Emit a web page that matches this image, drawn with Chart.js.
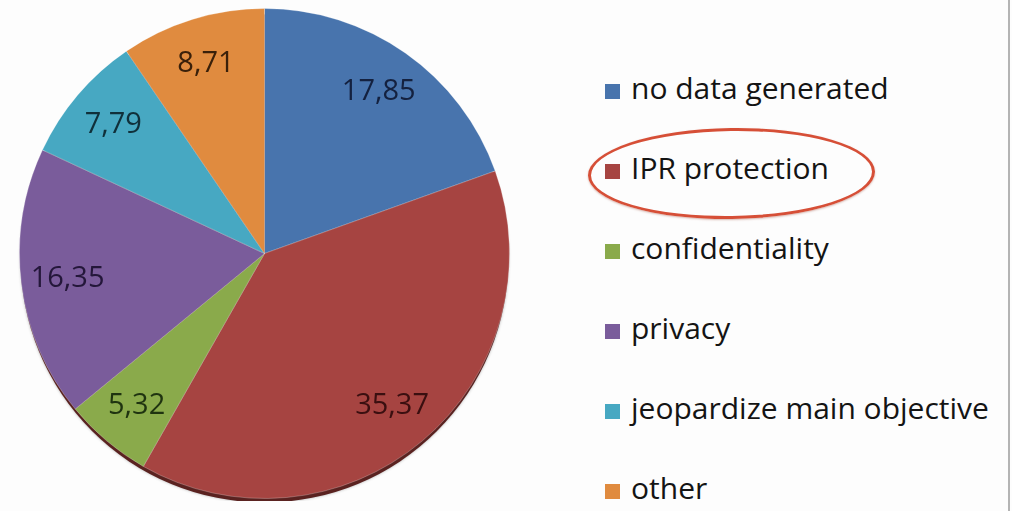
<!DOCTYPE html>
<html>
<head>
<meta charset="utf-8">
<script src="https://cdn.jsdelivr.net/npm/chart.js@4.4.1/dist/chart.umd.min.js"></script>
<style>
    body { margin: 0; background: #fdfdfd; font-family: "Open Sans", Lato, sans-serif; }
    #wrap { position: relative; width: 1012px; height: 511px; overflow: hidden; }
    #pieBox { position: absolute; left: 17px; top: 6px; width: 495px; height: 495px; }
    #legend { position: absolute; left: 605px; top: 67px; }
    .item { height: 80px; display: flex; align-items: flex-start; font-size: 30px; color: #141414; white-space: nowrap; }
    .box { width: 15px; height: 15px; margin: 17px 11px 0 0; flex: none; }
    #ring { position: absolute; left: 588px; top: 128px; width: 281px; height: 85px; border: 3.5px solid #d64f37;
        border-radius: 50%; transform: rotate(-0.8deg); box-shadow: 0 1px 2px rgba(150,60,40,0.35); }
    #edge { position: absolute; left: 1008px; top: 0; width: 2px; height: 511px; background: #b4b4b4; }
</style>
</head>
<body>
<div id="wrap">
    <div id="pieBox"><canvas id="pieChart" width="495" height="495"></canvas></div>
    <div id="legend"></div>
    <div id="ring"></div>
    <div id="edge"></div>
</div>
<script>
const categories = ['no data generated', 'IPR protection', 'confidentiality', 'privacy', 'jeopardize main objective', 'other'];
const values = [17.85, 35.37, 5.32, 16.35, 7.79, 8.71];
const valueLabels = ['17,85', '35,37', '5,32', '16,35', '7,79', '8,71'];
const sliceColors = ['#4874ad', '#a64441', '#8aaa4b', '#7a5c9b', '#47a8c2', '#e08b3f'];
const labelColors = ['#14213f', '#3a0f10', '#1f3310', '#24173a', '#10303a', '#3a200a'];

// dunkler Rand unten (3D-Effekt)
const rimPlugin = {
    id: 'rim',
    beforeDatasetsDraw(chart) {
        const arc = chart.getDatasetMeta(0).data[0];
        if (!arc) return;
        const { x, y, outerRadius } = arc.getProps(['x', 'y', 'outerRadius'], true);
        const ctx = chart.ctx;
        ctx.save();
        ctx.fillStyle = '#5a2220';
        ctx.shadowColor = 'rgba(0,0,0,0.3)';
        ctx.shadowBlur = 3;
        ctx.beginPath();
        ctx.arc(x, y + 5, outerRadius - 1, 0, Math.PI * 2);
        ctx.fill();
        ctx.restore();
    }
};

const valuePlugin = {
    id: 'values',
    afterDatasetsDraw(chart) {
        const ctx = chart.ctx;
        ctx.save();
        ctx.font = '29px "Open Sans", Lato, sans-serif';
        ctx.textAlign = 'center';
        ctx.textBaseline = 'middle';
        chart.getDatasetMeta(0).data.forEach((arc, i) => {
            const p = arc.getProps(['x', 'y', 'startAngle', 'endAngle', 'outerRadius'], true);
            const mid = (p.startAngle + p.endAngle) / 2;
            const r = p.outerRadius * 0.81;
            ctx.fillStyle = labelColors[i];
            ctx.fillText(valueLabels[i], p.x + Math.cos(mid) * r, p.y + Math.sin(mid) * r);
        });
        ctx.restore();
    }
};

const pieChart = new Chart(document.getElementById('pieChart'), {
    type: 'pie',
    data: {
        labels: categories,
        datasets: [{
            data: values,
            backgroundColor: sliceColors,
            borderColor: 'rgba(255,255,255,0.25)',
            borderWidth: 1
        }]
    },
    options: {
        responsive: false,
        animation: false,
        layout: { padding: 2 },
        plugins: {
            legend: { display: false },
            tooltip: { enabled: false }
        }
    },
    plugins: [rimPlugin, valuePlugin]
});

// Legende
document.getElementById('legend').innerHTML = categories.map((c, i) => `
    <div class="item"><span class="box" style="background:${sliceColors[i]}"></span>${c}</div>
`).join('');
</script>
</body>
</html>
